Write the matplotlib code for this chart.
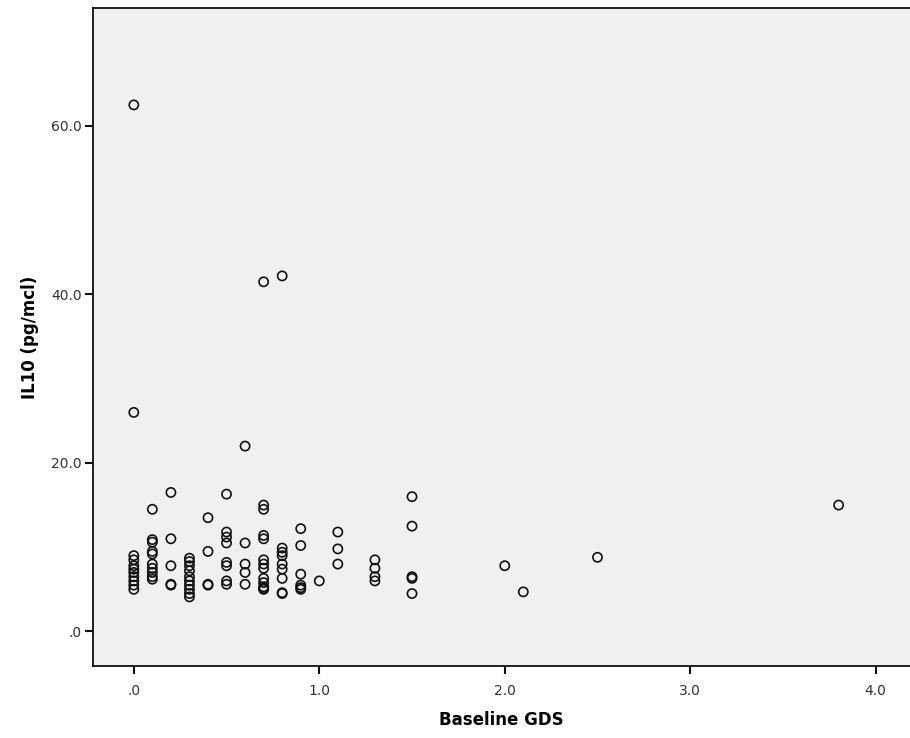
import matplotlib
matplotlib.use("Agg")
import matplotlib.pyplot as plt
from matplotlib.ticker import FuncFormatter

# Baseline GDS values (x) and IL10 values (y), grouped by column
gds = (
    [0.0] * 11
    + [0.1] * 10
    + [0.2] * 5
    + [0.3] * 10
    + [0.4] * 4
    + [0.5] * 8
    + [0.6] * 5
    + [0.7] * 13
    + [0.8] * 9
    + [0.9] * 6
    + [1.0]
    + [1.1] * 3
    + [1.3] * 4
    + [1.5] * 5
    + [2.0, 2.1, 2.5, 3.8]
)
il10 = (
    [62.5, 26.0, 9.0, 8.5, 7.8, 7.4, 7.0, 6.5, 6.0, 5.5, 5.0]
    + [14.5, 10.9, 10.6, 9.5, 9.2, 8.0, 7.5, 7.0, 6.5, 6.2]
    + [16.5, 11.0, 7.8, 5.6, 5.5]
    + [8.7, 8.3, 7.8, 7.2, 6.5, 6.0, 5.5, 5.0, 4.5, 4.1]
    + [13.5, 9.5, 5.6, 5.5]
    + [16.3, 11.8, 11.2, 10.5, 8.2, 7.8, 6.0, 5.6]
    + [22.0, 10.5, 8.0, 7.0, 5.6]
    + [41.5, 15.0, 14.5, 11.4, 11.0, 8.5, 8.0, 7.5, 6.3, 5.8, 5.3, 5.0, 5.1]
    + [42.2, 9.9, 9.4, 9.0, 8.0, 7.4, 6.3, 4.5, 4.6]
    + [12.2, 10.2, 6.8, 5.5, 5.2, 5.0]
    + [6.0]
    + [11.8, 9.8, 8.0]
    + [8.5, 7.5, 6.5, 6.0]
    + [16.0, 12.5, 6.5, 6.3, 4.5]
    + [7.8, 4.7, 8.8, 15.0]
)

xticks = [0, 1, 2, 3, 4]
yticks = [0, 20, 40, 60]

fig = plt.figure(figsize=(9.10, 7.38), dpi=100)
ax = fig.add_axes([93 / 910, (738 - 666) / 738, 1 - 93 / 910, (666 - 8) / 738])
ax.set_facecolor("#f0f0f0")

ax.scatter(gds, il10, s=44, facecolors="none", edgecolors="#111111", linewidths=1.2, zorder=3)

ax.set_xlim(-0.22, 4.185)
ax.set_ylim(-4.1, 74.0)
ax.set_xticks(xticks)
ax.set_yticks(yticks)

def fmt(v, pos):
    s = f"{v:.1f}"
    if s.startswith("0"):
        s = s[1:]
    return s

ax.xaxis.set_major_formatter(FuncFormatter(fmt))
ax.yaxis.set_major_formatter(FuncFormatter(fmt))
ax.tick_params(axis="both", direction="out", length=6, width=1.5, colors="#111111",
               labelsize=10, labelcolor="#333333")
ax.tick_params(axis="x", pad=7)
ax.tick_params(axis="y", pad=2)

for side in ["left", "bottom", "top"]:
    ax.spines[side].set_color("#111111")
    ax.spines[side].set_linewidth(1.3)
ax.spines["right"].set_visible(False)

ax.set_xlabel("Baseline GDS", fontsize=12, fontweight="bold", labelpad=9)
ax.set_ylabel("IL10 (pg/mcl)", fontsize=12, fontweight="bold", labelpad=9)

fig.savefig("out.png", dpi=100)
